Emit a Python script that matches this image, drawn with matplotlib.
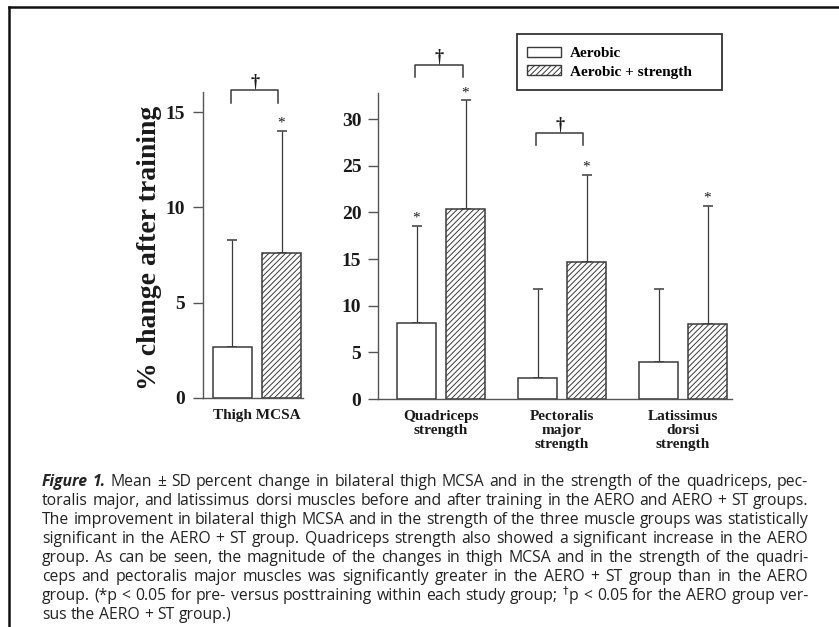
import matplotlib
matplotlib.use("Agg")
import matplotlib.pyplot as plt
import numpy as np
from matplotlib.patches import Patch, Rectangle
from matplotlib.lines import Line2D

# values: mean and SD of % change after training
thigh_labels = ["Thigh MCSA"]
thigh_aero = [2.7]
thigh_aero_sd = [5.6]
thigh_st = [7.6]
thigh_st_sd = [6.4]
thigh_star_aero = [False]
thigh_star_st = [True]
thigh_dagger = [True]

str_labels = ["Quadriceps\nstrength", "Pectoralis\nmajor\nstrength", "Latissimus\ndorsi\nstrength"]
str_aero = [8.2, 2.3, 4.0]
str_aero_sd = [10.3, 9.5, 7.8]
str_st = [20.4, 14.7, 8.0]
str_st_sd = [11.6, 9.3, 12.7]
str_star_aero = [True, False, False]
str_star_st = [True, True, True]
str_dagger = [True, True, False]

legend_labels = ["Aerobic", "Aerobic + strength"]

caption_lines = [
    "Figure 1. Mean \u00b1 SD percent change in bilateral thigh MCSA and in the strength of the quadriceps, pec-",
    "toralis major, and latissimus dorsi muscles before and after training in the AERO and AERO + ST groups.",
    "The improvement in bilateral thigh MCSA and in the strength of the three muscle groups was statistically",
    "significant in the AERO + ST group. Quadriceps strength also showed a significant increase in the AERO",
    "group. As can be seen, the magnitude of the changes in thigh MCSA and in the strength of the quadri-",
    "ceps and pectoralis major muscles was significantly greater in the AERO + ST group than in the AERO",
    "group. (*p < 0.05 for pre- versus posttraining within each study group; $^{\\dagger}$p < 0.05 for the AERO group ver-",
    "sus the AERO + ST group.)",
]

W, H = 839, 627
serif = "Liberation Serif"
ink = "#1a1a1a"
edge = "#3a3a3a"
plt.rcParams["hatch.linewidth"] = 0.7

fig = plt.figure(figsize=(W / 100, H / 100), dpi=100)


def fx(px):
    return px / W


def fy(py):
    return 1 - py / H


ax1 = fig.add_axes([fx(203), fy(398), fx(100), (398 - 92) / H])
ax2 = fig.add_axes([fx(378), fy(399), fx(354), (399 - 93) / H])

off = 0.2025
bw = 0.322


def draw_panel(ax, labels, aero, aero_sd, st, st_sd, star_a, star_s, dagger, ymax, br_y, ticks):
    x = np.arange(len(labels))
    ax.bar(x - off, aero, bw, color="white", edgecolor=edge, linewidth=1.1, zorder=2,
           yerr=[np.zeros(len(aero)), aero_sd], capsize=3.5,
           error_kw=dict(ecolor=edge, elinewidth=0.9, capthick=1.1, zorder=1))
    ax.bar(x + off, st, bw, color="white", edgecolor=edge, hatch="//////", linewidth=1.1, zorder=2,
           yerr=[np.zeros(len(st)), st_sd], capsize=3.5,
           error_kw=dict(ecolor=edge, elinewidth=0.9, capthick=1.1, zorder=1))
    for i in range(len(labels)):
        if star_a[i]:
            ax.annotate("*", (x[i] - off, aero[i] + aero_sd[i]), xytext=(0, 1), textcoords="offset points",
                        ha="center", va="bottom", fontsize=11, family=serif, color=ink, annotation_clip=False)
        if star_s[i]:
            ax.annotate("*", (x[i] + off, st[i] + st_sd[i]), xytext=(0, 1), textcoords="offset points",
                        ha="center", va="bottom", fontsize=11, family=serif, color=ink, annotation_clip=False)
        if dagger[i]:
            top, leg = br_y[i]
            xl, xr = x[i] - off - 0.015, x[i] + off - 0.025
            ax.plot([xl, xl, xr, xr], [leg, top, top, leg], color=edge, lw=1.1, clip_on=False)
            ax.text((xl + xr) / 2, top, "\u2020", ha="center", va="bottom", fontsize=13,
                    family=serif, weight="bold", color=ink, clip_on=False)
    ax.set_ylim(0, ymax)
    ax.set_yticks(ticks)
    ax.set_xticks(x, labels)
    for s in ["top", "right"]:
        ax.spines[s].set_visible(False)
    for s in ["left", "bottom"]:
        ax.spines[s].set_color("#555555")
        ax.spines[s].set_linewidth(1.0)
    ax.tick_params(axis="y", direction="out", length=7, width=1, color="#555555", pad=5,
                   labelsize=14, labelcolor=ink)
    ax.tick_params(axis="x", length=0, pad=8, labelsize=11, labelcolor=ink)
    for t in ax.get_yticklabels():
        t.set_family(serif)
        t.set_weight("bold")
    for t in ax.get_xticklabels():
        t.set_family(serif)
        t.set_weight("bold")
        t.set_linespacing(1.1)


draw_panel(ax1, thigh_labels, thigh_aero, thigh_aero_sd, thigh_st, thigh_st_sd,
           thigh_star_aero, thigh_star_st, thigh_dagger, 16.05, [(16.15, 15.45)], [0, 5, 10, 15])
ax1.set_xlim(-0.446, 0.380)
ax1.tick_params(axis="y", pad=6)

draw_panel(ax2, str_labels, str_aero, str_aero_sd, str_st, str_st_sd,
           str_star_aero, str_star_st, str_dagger, 32.8,
           [(35.8, 34.5), (28.5, 27.2), (0, 0)], [0, 5, 10, 15, 20, 25, 30])
ax2.set_xlim(-0.521, 2.405)

fig.text(fx(150), fy(248), "% change after training", rotation=90, ha="center", va="center",
         fontsize=20, family=serif, weight="bold", color=ink)

# legend box
fig.add_artist(Rectangle((fx(517), fy(90)), fx(205), 56 / H, transform=fig.transFigure,
                         facecolor="white", edgecolor="#333333", lw=1.3))
handles = [Patch(facecolor="white", edgecolor=edge, lw=1.0),
           Patch(facecolor="white", edgecolor=edge, hatch="//////", lw=1.0)]
fig.legend(handles, legend_labels, loc="upper left", bbox_to_anchor=(fx(527), fy(47)),
           frameon=False, borderpad=0, borderaxespad=0, handlelength=2.2, handleheight=0.65,
           handletextpad=0.6, labelspacing=0.3,
           prop=dict(family=serif, weight="bold", size=11))

# outer frame
fig.add_artist(Line2D([fx(9), fx(9)], [0, fy(7)], transform=fig.transFigure, color="#111111", lw=1.8))
fig.add_artist(Line2D([fx(9), 1], [fy(7), fy(7)], transform=fig.transFigure, color="#111111", lw=1.8))

# caption, justified between x=42 and x=808
renderer = fig.canvas.get_renderer()
x_left, x_right = 42, 808


def build_line(li, line, size):
    texts = []
    for wi, word in enumerate(line.split(" ")):
        style = dict(family="Open Sans", fontsize=size, color="#222222", va="center", ha="left")
        if li == 0 and wi < 2:
            style.update(weight="bold", style="italic")
        texts.append(fig.text(0, fy(482 + 19 * li), word, **style))
    return texts, [t.get_window_extent(renderer).width for t in texts]


# pick the font size so the widest line fits with ordinary word spacing
base = 10.0
probe = fig.text(0, 0, "a a", family="Open Sans", fontsize=base)
w_sp = probe.get_window_extent(renderer).width
probe.set_text("aa")
w_sp -= probe.get_window_extent(renderer).width
probe.remove()
natural = []
for li, line in enumerate(caption_lines[:-1]):
    texts, widths = build_line(li, line, base)
    natural.append(sum(widths) + w_sp * (len(widths) - 1))
    for t in texts:
        t.remove()
cap_size = base * (x_right - x_left) / max(natural)
w_sp *= cap_size / base

for li, line in enumerate(caption_lines):
    texts, widths = build_line(li, line, cap_size)
    if li < len(caption_lines) - 1:
        gap = (x_right - x_left - sum(widths)) / (len(widths) - 1)
    else:
        gap = w_sp
    xpos = x_left
    for t, w in zip(texts, widths):
        t.set_x(fx(xpos))
        xpos += w + gap

fig.savefig("out.png", dpi=100)
